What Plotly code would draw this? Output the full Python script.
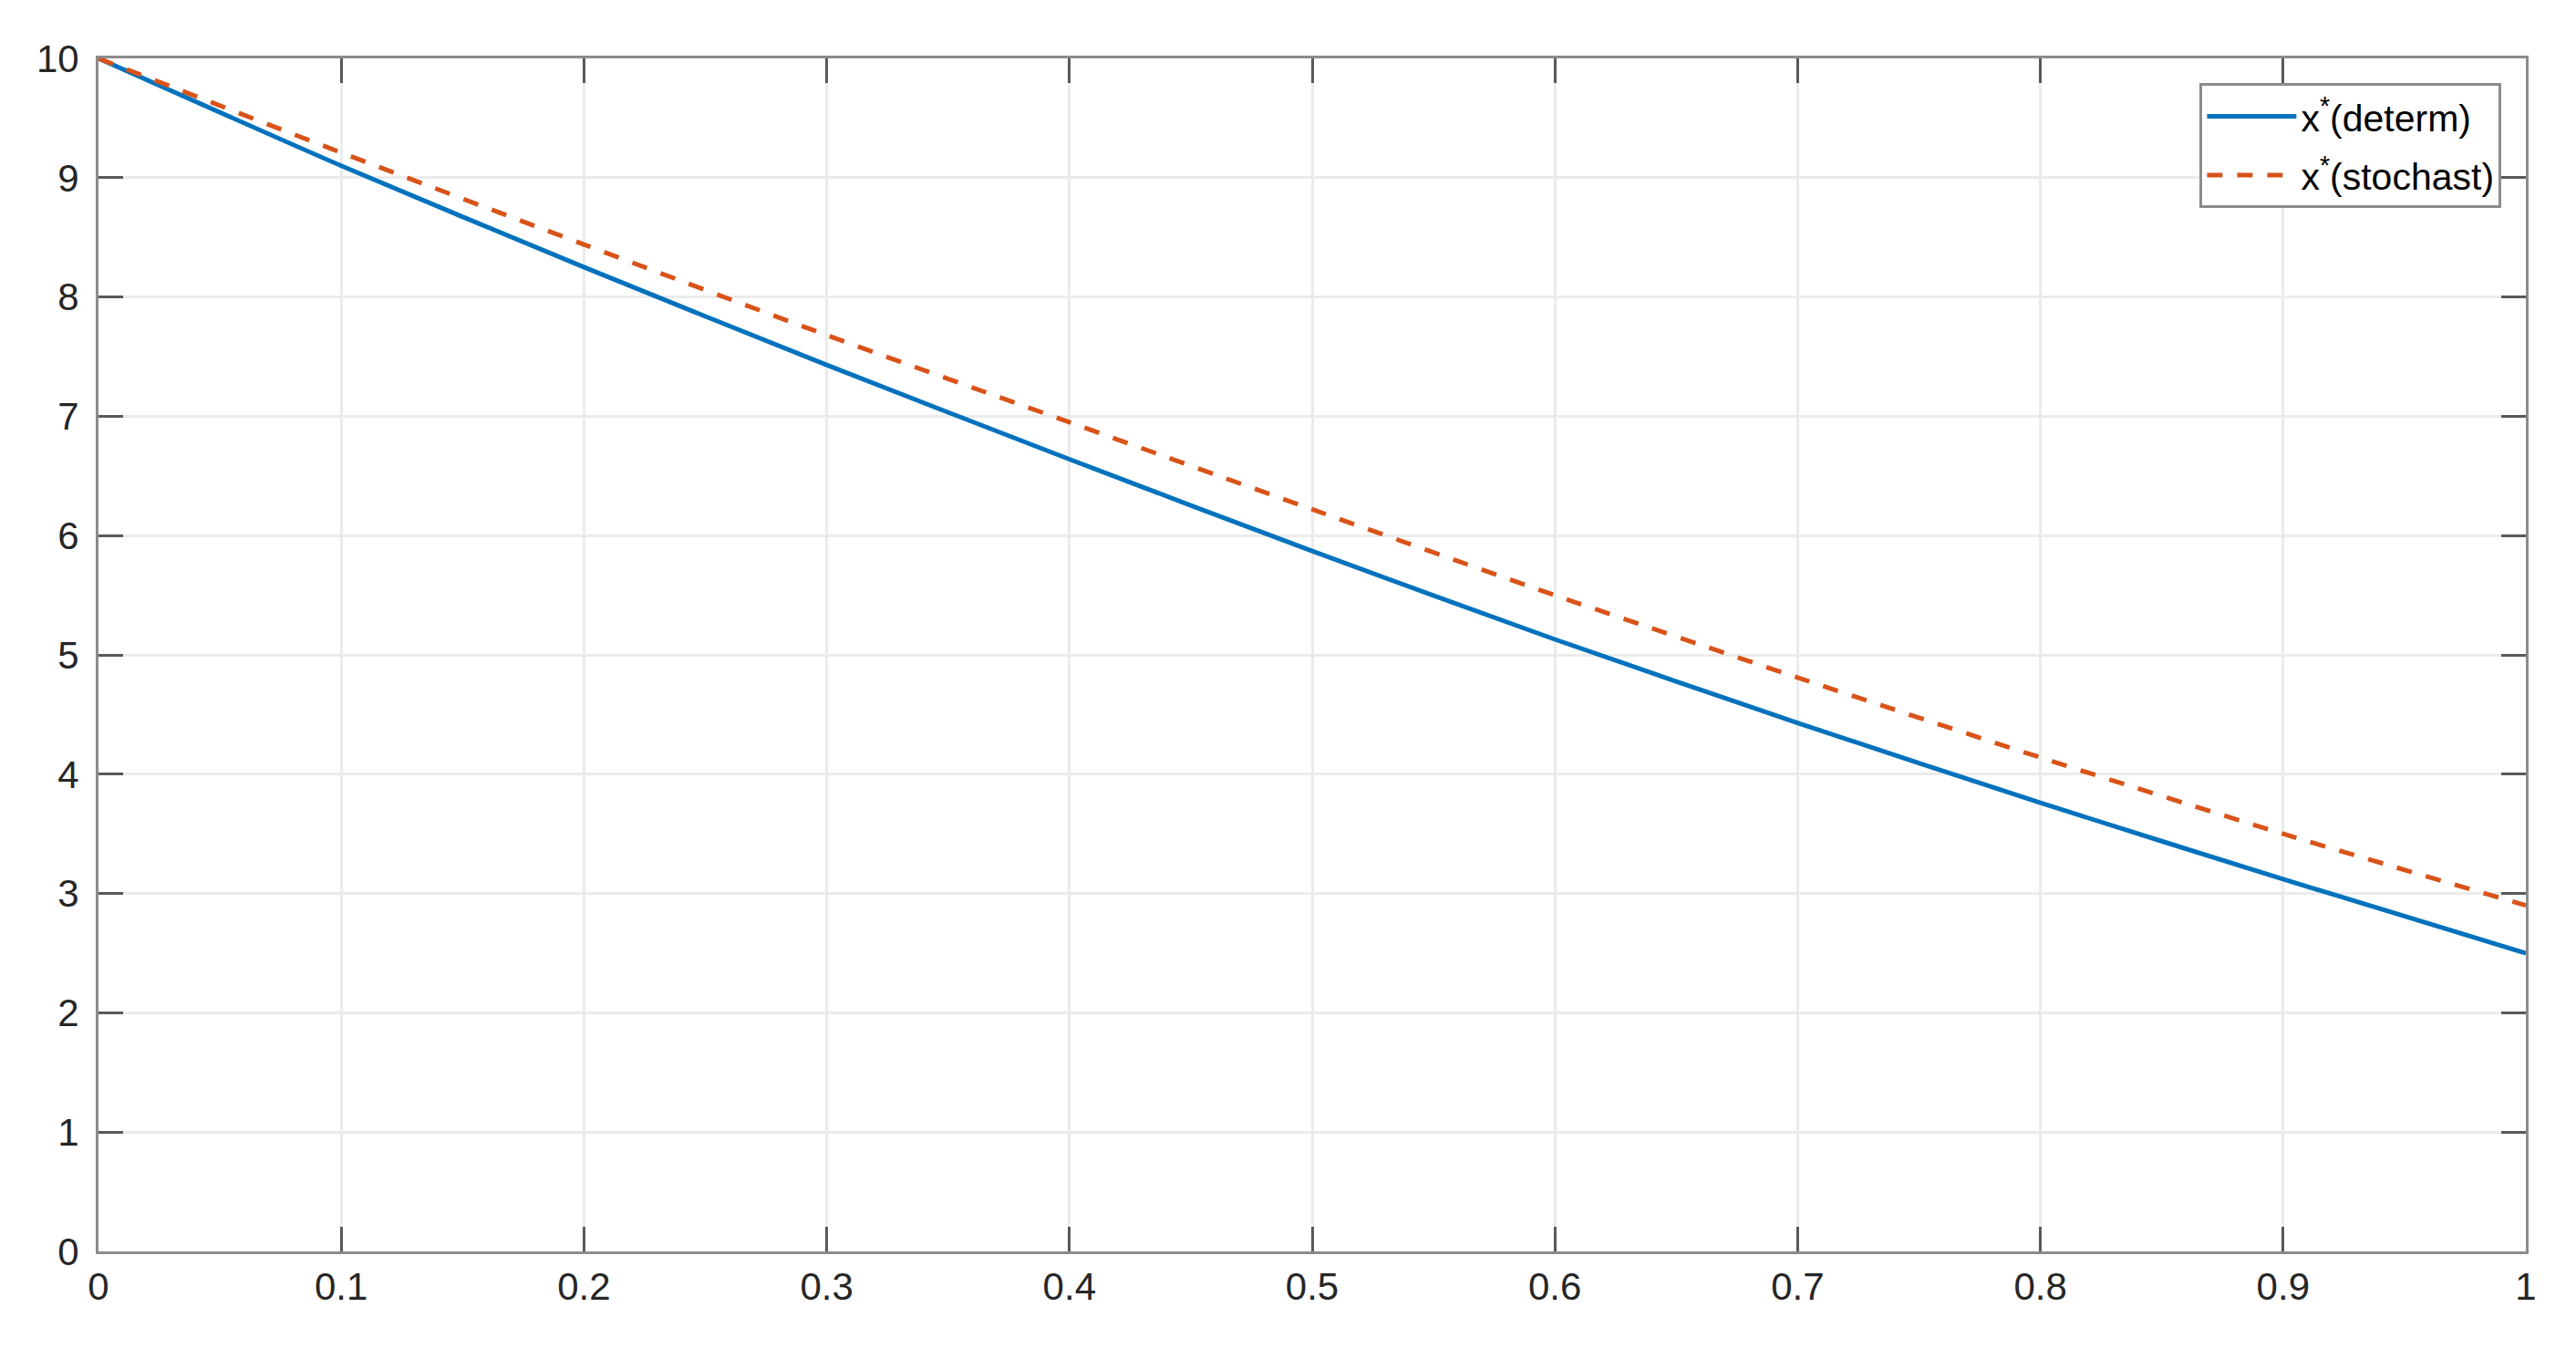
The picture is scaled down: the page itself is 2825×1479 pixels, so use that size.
import plotly.graph_objects as go

# values
x_vals = [0, 0.1, 0.2, 0.3, 0.4, 0.5, 0.6, 0.7, 0.8, 0.9, 1.0]
x_determ = [10.0, 9.10, 8.25, 7.43, 6.64, 5.87, 5.13, 4.43, 3.76, 3.12, 2.50]
x_stochast = [10.0, 9.21, 8.44, 7.68, 6.95, 6.22, 5.50, 4.81, 4.14, 3.50, 2.90]

x_ticks = [0, 0.1, 0.2, 0.3, 0.4, 0.5, 0.6, 0.7, 0.8, 0.9, 1]
x_ticklabels = ["0", "0.1", "0.2", "0.3", "0.4", "0.5", "0.6", "0.7", "0.8", "0.9", "1"]
y_ticks = list(range(0, 11))

fig = go.Figure()

fig.add_trace(go.Scatter(
    x=x_vals, y=x_determ,
    mode="lines",
    name="x<sup>*</sup>(determ)",
    legendgroup="a",
    line=dict(color="#0072BD", width=5, shape="spline", smoothing=0.6),
))
fig.add_trace(go.Scatter(
    x=x_vals, y=x_stochast,
    mode="lines",
    name="x<sup>*</sup>(stochast)",
    legendgroup="b",
    line=dict(color="#D95319", width=5, dash="17px,16px", shape="spline", smoothing=0.6),
))

axis_style = dict(
    showline=True, linecolor="#8c8c8c", linewidth=3,
    mirror="allticks", ticks="inside", ticklen=27, tickwidth=3, tickcolor="#595959",
    showgrid=True, gridcolor="#ebebeb", gridwidth=3,
    zeroline=False,
    tickfont=dict(family="Liberation Sans, Arial, sans-serif", size=42, color="#262626"),
)

fig.update_xaxes(range=[0, 1], tickvals=x_ticks, ticktext=x_ticklabels, **axis_style)
fig.update_yaxes(range=[0, 10], tickvals=y_ticks, ticklabelstandoff=10, **axis_style)

# page body adds an 8px margin, so the figure is a bit smaller than the window
fig.update_layout(
    width=2817, height=1471,
    margin=dict(l=100, r=55, t=56, b=107),
    paper_bgcolor="white", plot_bgcolor="white",
    showlegend=True,
    legend=dict(
        x=0.99, y=0.979, xanchor="right", yanchor="top",
        bgcolor="white", bordercolor="#8c8c8c", borderwidth=3,
        font=dict(family="Liberation Sans, Arial, sans-serif", size=41, color="#000000"),
        tracegroupgap=8, itemwidth=98,
    ),
)

fig.write_html("out.html")
